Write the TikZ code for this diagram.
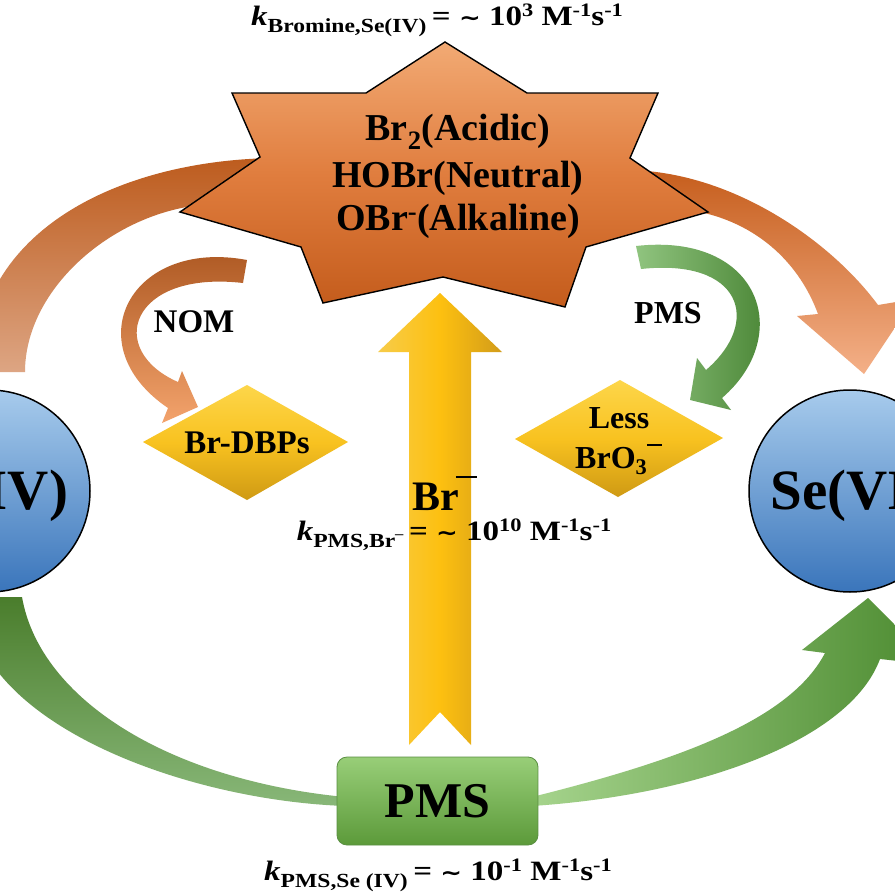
\documentclass[tikz,border=0pt]{standalone}
\usepackage{fontspec}
\setmainfont{Liberation Serif}
\newfontfamily\dejavu{DejaVu Sans}
\usetikzlibrary{shapes.geometric}
\newcommand{\fsz}[2]{\fontsize{#1}{#2}\selectfont}
\newcommand{\ksub}[1]{{\itshape k}\raisebox{-0.28em}{\fsz{20}{20}#1}}
\newcommand{\sups}[1]{\raisebox{0.32em}{\fsz{19}{19}#1}}
\newcommand{\tld}{{\dejavu\fsz{22}{22}∼}}
\definecolor{stTop}{HTML}{F2AA74}
\definecolor{stMid}{HTML}{E07D3E}
\definecolor{stBot}{HTML}{C45C1C}
\definecolor{obLtop}{HTML}{BD5C1E}
\definecolor{obLbot}{HTML}{DDA583}
\definecolor{obRtop}{HTML}{C65E1D}
\definecolor{obRbot}{HTML}{F4B088}
\definecolor{nomTop}{HTML}{A9541E}
\definecolor{nomBot}{HTML}{F3A36C}
\definecolor{gsL}{HTML}{90C47F}
\definecolor{gsR}{HTML}{3D7A28}
\definecolor{dTop}{HTML}{FDD64A}
\definecolor{dMid}{HTML}{F8C220}
\definecolor{dBot}{HTML}{CF9A14}
\definecolor{cTop}{HTML}{A7CBEC}
\definecolor{cBot}{HTML}{3A75BB}
\definecolor{yL}{HTML}{F7CC4A}
\definecolor{yM}{HTML}{FDC010}
\definecolor{yR}{HTML}{D29C1A}
\definecolor{bxTop}{HTML}{98CE78}
\definecolor{bxBot}{HTML}{5C9A3A}
\definecolor{bxLine}{HTML}{5A8F42}
\definecolor{gLtop}{HTML}{4A7D2C}
\definecolor{gLbot}{HTML}{88B778}
\definecolor{gRl}{HTML}{A6D48D}
\definecolor{gRr}{HTML}{4B8A2F}
\begin{document}
\begin{tikzpicture}[x=1pt,y=-1pt,font=\bfseries,
  txt/.style={inner sep=0pt, anchor=base},
  circ/.style={circle, draw=black, line width=1.5pt, minimum size=202pt, inner sep=0pt,
     top color=cTop, bottom color=cBot, font=\bfseries\fsz{57}{57}, text height=37pt, text depth=0pt},
  diam/.style={top color=dTop, bottom color=dBot, middle color=dMid},
  klabel/.style={txt, font=\bfseries\fsz{28}{28}}]
\useasboundingbox (0,0) rectangle (895,894);
\fill[white] (0,0) rectangle (895,894);
\clip (0,0) rectangle (895,894);

% big orange bands
\shade[top color=obLtop, bottom color=obLbot]
  (-25,372) .. controls (-25,230) and (120,160) .. (275,158) -- (200,205)
  .. controls (110,215) and (25,290) .. (25,372) -- cycle;
\shade[top color=obRtop, bottom color=obRbot]
  (625,170) .. controls (730,170) and (830,240) .. (878,305) -- (914,299) -- (864,374)
  -- (797,316) -- (818,314) .. controls (800,265) and (760,225) .. (700,212) -- cycle;

% star
\shadedraw[draw=black, line width=1.4pt, line join=miter, top color=stTop, bottom color=stBot, middle color=stMid]
  (445,42) -- (527,93) -- (658,93) -- (630,158) -- (708,212) -- (586,247) -- (565,307)
  -- (443,277) -- (323,303) -- (301,247) -- (180,212) -- (260,157) -- (232,93) -- (366,93) -- cycle;
\node[txt, font=\bfseries\fsz{38}{38}] (st1) at (458,140) {Br\textsubscript{2}(Acidic)};
\node[txt, font=\bfseries\fsz{38}{38}] (st2) at (458,187) {HOBr(Neutral)};
\node[txt, font=\bfseries\fsz{38}{38}] (st3) at (458,230) {OBr\textsuperscript{-}(Alkaline)};

% NOM arrow
\shade[top color=nomTop, bottom color=nomBot]
  (247,260) .. controls (130,238) and (75,345) .. (168,408) -- (162,423) -- (198,407)
  -- (182,371) -- (178,382) .. controls (105,350) and (130,270) .. (243,283) -- cycle;
% PMS small arrow
\shade[left color=gsL, right color=gsR]
  (636,246) .. controls (760,232) and (795,335) .. (722,398) -- (731,410) -- (690,400)
  -- (697,358) -- (706,370) .. controls (762,322) and (742,258) .. (641,269) -- cycle;

\node[txt, font=\bfseries\fsz{33}{33}] (nom) at (194,332) {NOM};
\node[txt, font=\bfseries\fsz{32}{32}] (pmsl) at (668,323) {PMS};

% diamonds
\shade[diam] (143,442) -- (247,385) -- (348,442) -- (247,500) -- cycle;
\shade[diam] (515,439) -- (620,380) -- (723,438) -- (618,497) -- cycle;
\node[txt, font=\bfseries\fsz{33}{33}] (dbp) at (247,453) {Br-DBPs};
\node[txt, font=\bfseries\fsz{32}{32}] (less) at (619,428) {Less};
\node[txt, anchor=base west, font=\bfseries\fsz{32}{32}] (bro) at (575,468) {BrO\textsubscript{3}\rule[22pt]{15pt}{2.4pt}};

% bottom green bands
\shade[top color=gLtop, bottom color=gLbot]
  (-30,597) .. controls (-30,720) and (180,800) .. (345,806) -- (345,797)
  .. controls (170,780) and (40,700) .. (22,597) -- cycle;
\shade[left color=gRl, right color=gRr]
  (532,797) .. controls (680,760) and (790,720) .. (825,653) -- (802,650) -- (868,598)
  -- (935,665) -- (880,659) .. controls (850,740) and (700,795) .. (532,806) -- cycle;

% circles
\node[circ] (se4) at (-11,491) {Se(IV)};
\node[circ] (se6) at (850,491) {Se(VI)};

% yellow arrow
\shade[left color=yL, right color=yR, middle color=yM]
  (440,293) -- (502,352) -- (471,352) -- (471,745) -- (440,712) -- (409,745) -- (409,352) -- (378,352) -- cycle;

% PMS box
\node[rectangle, rounded corners=10pt, minimum width=201pt, minimum height=88pt, inner sep=0pt,
  top color=bxTop, bottom color=bxBot, draw=bxLine, line width=0.8pt,
  font=\bfseries\fsz{50}{50}, text height=33pt, text depth=0pt] (pms) at (437.5,801) {PMS};

% labels
\node[txt, font=\bfseries\fsz{42}{42}, anchor=base west] (brm) at (412,510) {Br\kern-3pt\rule[32pt]{21pt}{2.5pt}};
\node[klabel] (ktop) at (437,25) {\scalebox{1.18}[1]{\ksub{Bromine,Se(IV)}\,= \tld\ 10\sups{3} M\sups{-1}s\sups{-1}}};
\node[klabel] (kmid) at (454,540) {\scalebox{1.18}[1]{\ksub{PMS,Br\raisebox{0.45em}{\fsz{14}{14}–}}\,= \tld\ 10\sups{10} M\sups{-1}s\sups{-1}}};
\node[klabel] (kbot) at (438,880) {\scalebox{1.18}[1]{\ksub{PMS,Se (IV)}\,= \tld\ 10\sups{-1} M\sups{-1}s\sups{-1}}};
\end{tikzpicture}
\end{document}
